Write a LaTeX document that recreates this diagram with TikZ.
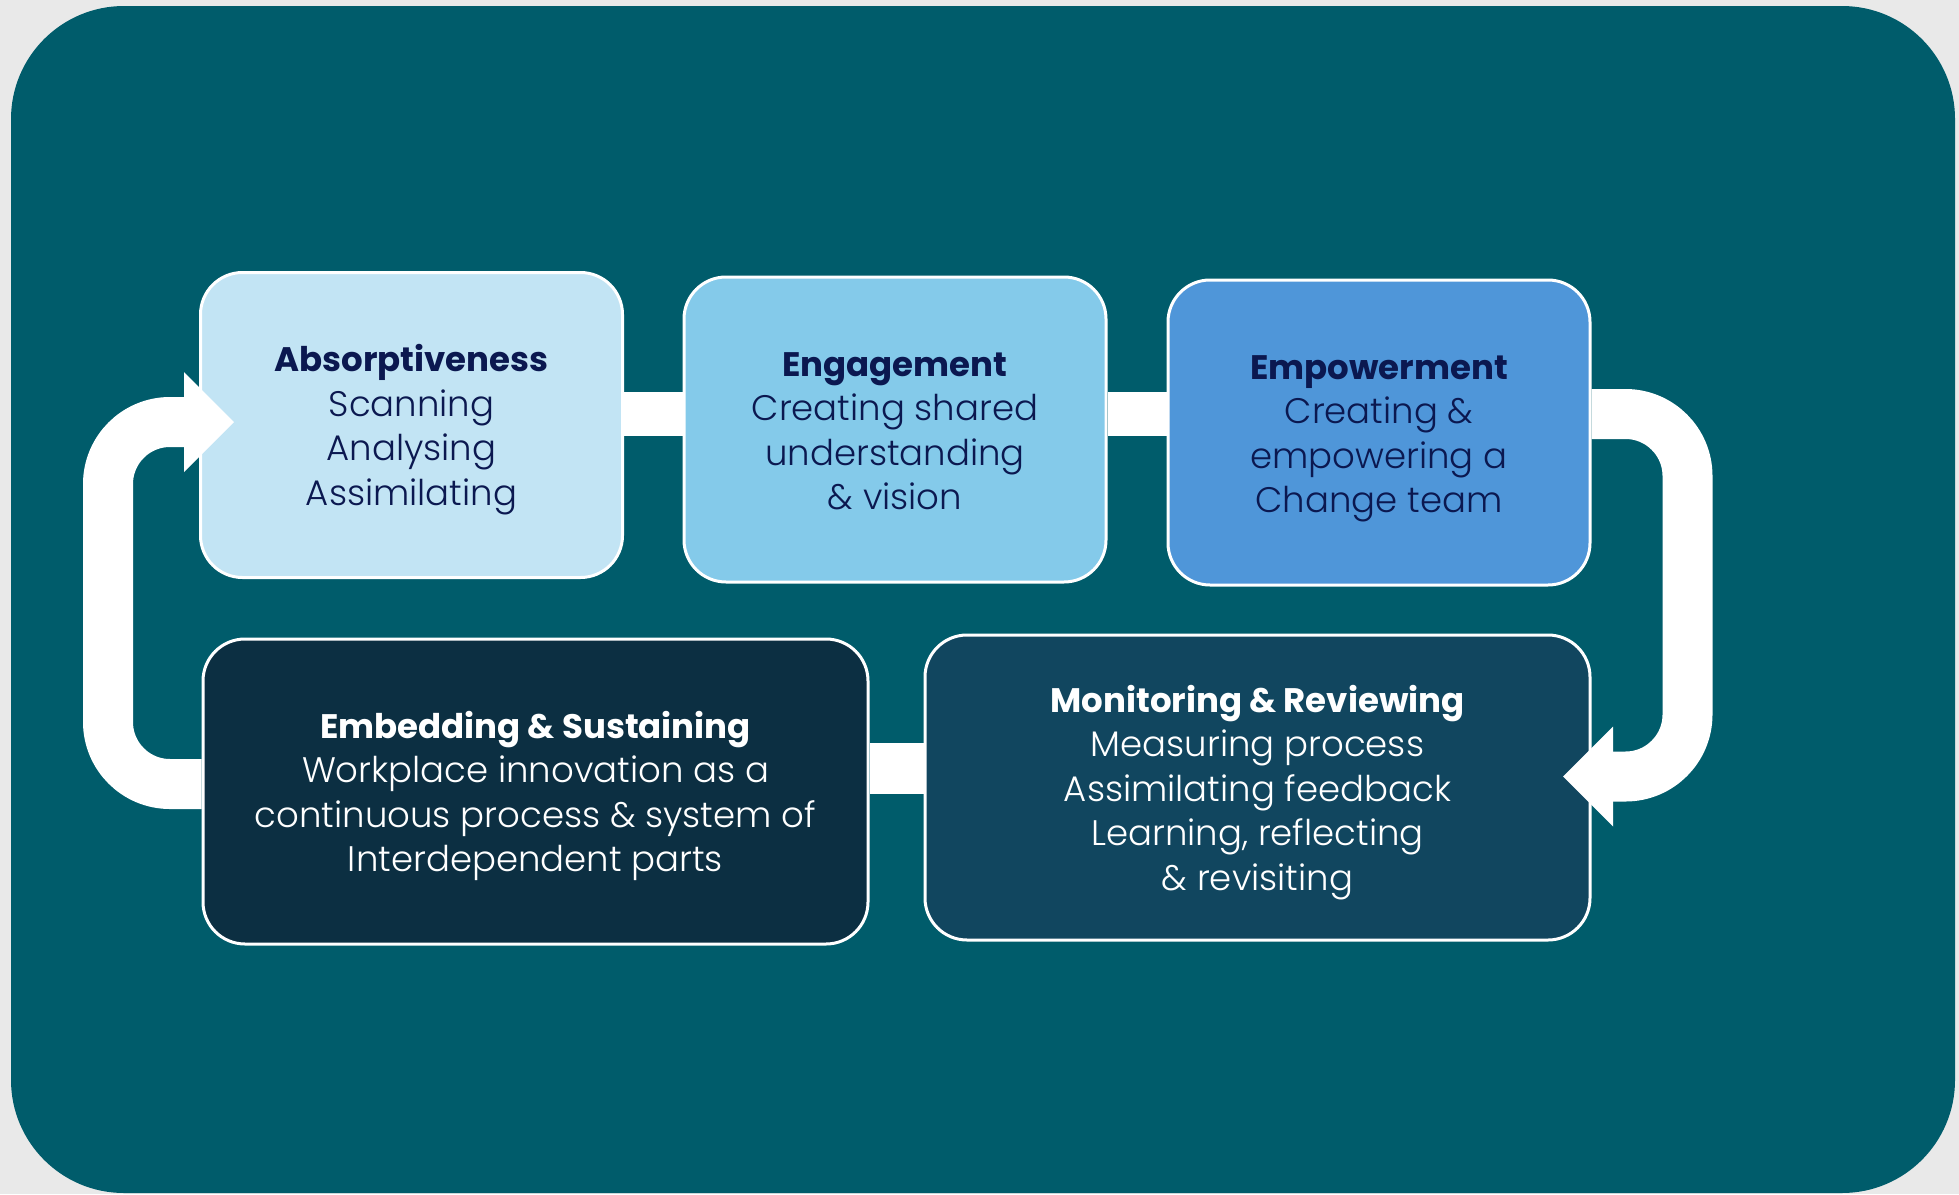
\documentclass[tikz,border=0pt]{standalone}
\usepackage{fontspec}
\setmainfont{Poppins Light}[BoldFont={Poppins Bold}]
\usetikzlibrary{arrows.meta}
\definecolor{bggray}{RGB}{233,233,233}
\definecolor{panel}{RGB}{0,92,107}
\definecolor{navy}{RGB}{11,24,80}
\definecolor{c1}{RGB}{194,228,244}
\definecolor{c2}{RGB}{132,202,234}
\definecolor{c3}{RGB}{79,150,217}
\definecolor{c4}{RGB}{12,47,66}
\definecolor{c5}{RGB}{17,70,95}
\newcommand{\stitle}[1]{\rule{0pt}{37pt}{\fontsize{34}{44.5}\selectfont\bfseries #1}}
\newcommand{\sfoot}{\rule[-10pt]{0pt}{10pt}}
\begin{document}
\begin{tikzpicture}[x=1pt,y=-1pt,
    stage/.style={draw=white, line width=3pt, rounded corners=42pt,
      minimum width=422pt, minimum height=305pt, inner sep=0pt,
      align=center, font=\fontsize{35.5}{44.5}\selectfont},
    wide/.style={minimum width=665pt},
    link/.style={draw=white, line width=44pt},
    cyclearrow/.style={draw=white, line width=50pt, rounded corners=62pt,
      -{Triangle[length=50pt,width=100pt,line width=0pt]}}]
  \useasboundingbox (0,0) rectangle (1959,1194);
  \fill[bggray] (0,0) rectangle (1959,1194);
  \fill[panel, rounded corners=113pt] (11,6) rectangle (1955,1193);

  \node[stage, fill=c1, text=navy] (s1) at (411.5,425)
    {\stitle{Absorptiveness}\\Scanning\\Analysing\\Assimilating\sfoot};
  \node[stage, fill=c2, text=navy] (s2) at (895,429.5)
    {\stitle{Engagement}\\Creating shared\\understanding\\\& vision\sfoot};
  \node[stage, fill=c3, text=navy] (s3) at (1379,432.5)
    {\stitle{Empowerment}\\Creating \&\\empowering a\\Change team\sfoot};
  \node[stage, wide, fill=c4, text=white] (s4) at (535.5,791.5)
    {\stitle{Embedding \& Sustaining}\\Workplace innovation as a\\continuous process \& system of\\Interdependent parts\sfoot};
  \node[stage, wide, fill=c5, text=white] (s5) at (1257.5,787.5)
    {\stitle{Monitoring \& Reviewing}\\Measuring process\\Assimilating feedback\\Learning, reflecting\\\& revisiting\sfoot};

  \coordinate (t1) at (1563,776.5);
  \coordinate (t2) at (234,422);

  \draw[link] (s1.east |- 0,414) -- (s2.west |- 0,414);
  \draw[link] (s2.east |- 0,414) -- (s3.west |- 0,414);
  \draw[link, line width=51pt] (s4.east |- 0,768.5) -- (s5.west |- 0,768.5);

  \draw[cyclearrow] (s3.east |- 0,414) -| (1687.5,776.5) -- (t1);
  \draw[cyclearrow] (s4.west |- 0,784) -| (108,422) -- (t2);
\end{tikzpicture}
\end{document}
